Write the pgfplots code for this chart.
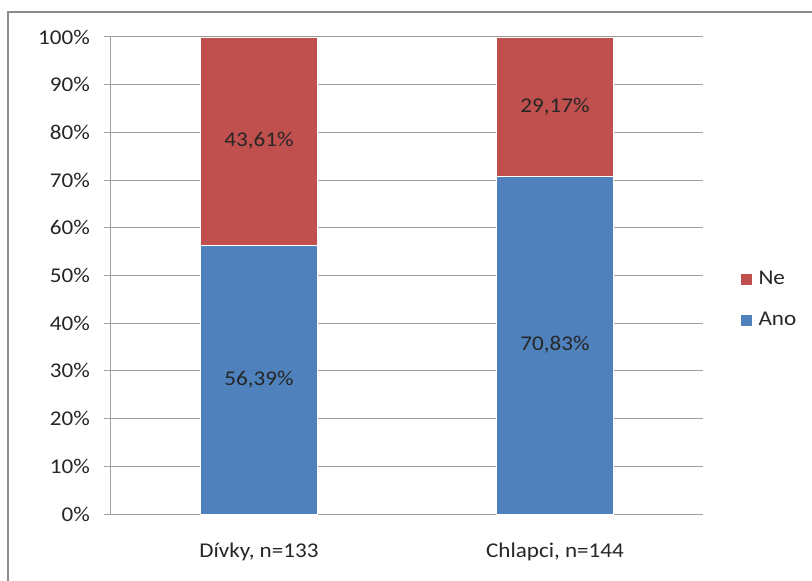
\documentclass[border=0pt]{standalone}
\usepackage{pgfplots}
\usepackage{pgfplotstable}
\pgfplotsset{compat=1.18}
\usepackage{fontspec}
\setmainfont{Carlito}[FakeStretch=1.1]

\definecolor{anoblue}{HTML}{4F81BD}
\definecolor{nered}{HTML}{C0504D}
\definecolor{gridgray}{HTML}{A0A0A0}
\definecolor{framegray}{HTML}{8C8C8C}

% share of answers (percent) per group
\pgfplotstableread{
cat ano ne anolab nelab
0 56.39 43.61 56,39\% 43,61\%
1 70.83 29.17 70,83\% 29,17\%
}\answers

\pgfplotsset{
  common/.style={
    at={(0,0)}, anchor=south west,
    scale only axis, width=592bp, height=477bp,
    xmin=-0.5, xmax=1.5, ymin=0, ymax=100,
  },
}

\begin{document}
\fontsize{21bp}{25bp}\selectfont
\begin{tikzpicture}
\path[use as bounding box] (-111bp,-67bp) rectangle (701bp,514bp);
\fill[white] (-103bp,-67bp) rectangle (701bp,502bp);
\draw[framegray, line width=1.6bp] (-103bp,-67bp) -- (-103bp,502bp) -- (701bp,502bp);

\begin{axis}[
  common,
  ybar stacked, bar width=117bp,
  axis x line*=bottom, axis y line*=left,
  axis line style={gridgray, line width=1bp},
  tick align=outside, major tick length=7bp,
  tick style={gridgray, line width=1bp},
  xtick={0,1},
  xticklabels={{Dívky, n=133},{Chlapci, n=144}},
  major x tick style={draw=none},
  extra x ticks={-0.5,0.5,1.5}, extra x tick labels={},
  extra x tick style={grid=none, tick style={gridgray, line width=1bp}},
  x tick label style={font=\fontsize{21bp}{25bp}\selectfont, yshift=-15bp, text=black!85},
  ytick={0,10,...,100},
  yticklabels={0\%,10\%,20\%,30\%,40\%,50\%,60\%,70\%,80\%,90\%,100\%},
  y tick label style={font=\fontsize{21bp}{25bp}\selectfont, xshift=-7bp, text=black!85},
  ymajorgrids, grid style={gridgray, line width=1bp},
  reverse legend,
  legend image code/.code={\path[#1, draw=none] (0bp,-5.5bp) rectangle (11bp,5.5bp);},
  legend style={draw=none, fill=none, at={(1.058,0.449)}, anchor=west,
    row sep=20bp, column sep=5bp, font=\fontsize{21bp}{25bp}\selectfont, text=black!85},
  legend cell align=left,
]
\addplot[fill=anoblue, draw=white, line width=0.8bp] table[x=cat, y=ano] {\answers};
\addlegendentry{Ano}
\addplot[fill=nered, draw=white, line width=0.8bp] table[x=cat, y=ne] {\answers};
\addlegendentry{Ne}
\end{axis}

% value labels centred in each segment
\begin{axis}[common, hide axis]
\addplot[draw=none, mark=none, nodes near coords, point meta=explicit symbolic,
  every node near coord/.append style={anchor=center, text=black!85,
    font=\fontsize{21bp}{25bp}\selectfont}]
  table[x=cat, y expr=\thisrow{ano}/2, meta=anolab] {\answers};
\addplot[draw=none, mark=none, nodes near coords, point meta=explicit symbolic,
  every node near coord/.append style={anchor=center, text=black!85,
    font=\fontsize{21bp}{25bp}\selectfont}]
  table[x=cat, y expr=\thisrow{ano}+\thisrow{ne}/2, meta=nelab] {\answers};
\end{axis}
\end{tikzpicture}
\end{document}
